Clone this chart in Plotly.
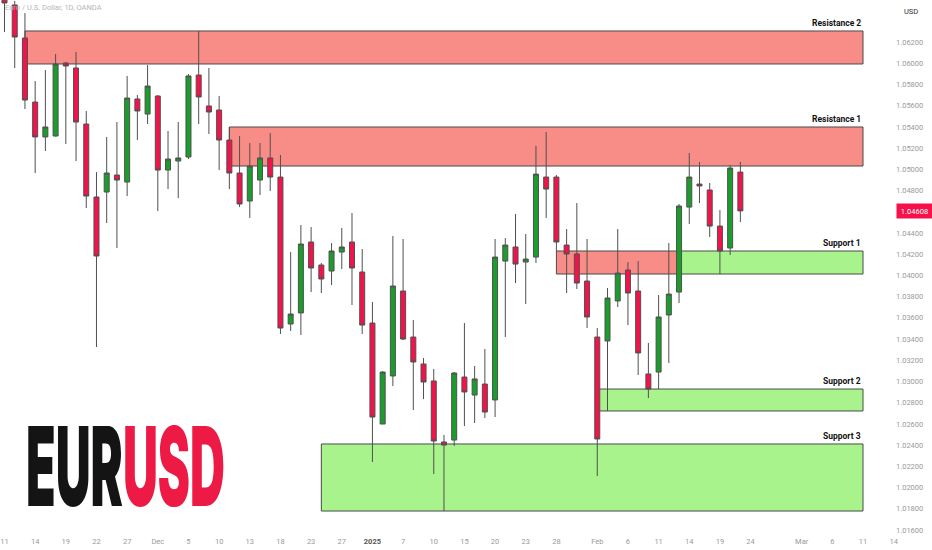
import plotly.graph_objects as go

# ---------------- data ----------------
dates = [
    "2024-11-11", "2024-11-12", "2024-11-13", "2024-11-14", "2024-11-15",
    "2024-11-18", "2024-11-19", "2024-11-20", "2024-11-21", "2024-11-22",
    "2024-11-25", "2024-11-26", "2024-11-27", "2024-11-28", "2024-11-29",
    "2024-12-02", "2024-12-03", "2024-12-04", "2024-12-05", "2024-12-06",
    "2024-12-09", "2024-12-10", "2024-12-11", "2024-12-12", "2024-12-13",
    "2024-12-16", "2024-12-17", "2024-12-18", "2024-12-19", "2024-12-20",
    "2024-12-23", "2024-12-24", "2024-12-26", "2024-12-27",
    "2024-12-30", "2024-12-31", "2025-01-02", "2025-01-03",
    "2025-01-06", "2025-01-07", "2025-01-08", "2025-01-09", "2025-01-10",
    "2025-01-13", "2025-01-14", "2025-01-15", "2025-01-16", "2025-01-17",
    "2025-01-20", "2025-01-21", "2025-01-22", "2025-01-23", "2025-01-24",
    "2025-01-27", "2025-01-28", "2025-01-29", "2025-01-30", "2025-01-31",
    "2025-02-03", "2025-02-04", "2025-02-05", "2025-02-06", "2025-02-07",
    "2025-02-10", "2025-02-11", "2025-02-12", "2025-02-13", "2025-02-14",
    "2025-02-17", "2025-02-18", "2025-02-19", "2025-02-20", "2025-02-21",
]
future_dates = [
    "2025-02-24", "2025-02-25", "2025-02-26", "2025-02-27", "2025-02-28",
    "2025-03-03", "2025-03-04", "2025-03-05", "2025-03-06", "2025-03-07",
    "2025-03-10", "2025-03-11", "2025-03-12", "2025-03-13", "2025-03-14",
]

opens = [
    1.06750, 1.06549, 1.06238, 1.05634, 1.05305,
    1.05314, 1.06002, 1.05955, 1.05427, 1.04739,
    1.04786, 1.04946, 1.04880, 1.05663, 1.05521,
    1.05691, 1.04993, 1.05078, 1.05116, 1.05889,
    1.05597, 1.05559, 1.05276, 1.04965, 1.04701,
    1.04899, 1.05107, 1.04927, 1.03542, 1.03646,
    1.04315, 1.04098, 1.04041, 1.04220,
    1.04315, 1.04032, 1.03551, 1.02599,
    1.03052, 1.03853, 1.03419, 1.03165, 1.03005,
    1.02430, 1.02448, 1.03042, 1.02872, 1.02976,
    1.02826, 1.04135, 1.04268, 1.04126, 1.04173,
    1.04927, 1.04927, 1.04286, 1.04202, 1.03947,
    1.03419, 1.03382, 1.03759, 1.04051, 1.03853,
    1.03071, 1.03089, 1.03627, 1.03843, 1.04644,
    1.04861, 1.04805, 1.04465, 1.04258, 1.04974,
]
highs = [
    1.06800, 1.06587, 1.06473, 1.05832, 1.05936,
    1.06087, 1.06012, 1.06106, 1.05550, 1.04974,
    1.05305, 1.05446, 1.05880, 1.05700, 1.05983,
    1.05700, 1.05361, 1.05446, 1.05898, 1.06304,
    1.05955, 1.05691, 1.05399, 1.05314, 1.05248,
    1.05248, 1.05342, 1.05135, 1.04220, 1.04475,
    1.04456, 1.04117, 1.04305, 1.04447,
    1.04588, 1.04249, 1.03749, 1.03099,
    1.04371, 1.04343, 1.03580, 1.03221, 1.03118,
    1.02496, 1.03089, 1.03551, 1.03146, 1.03306,
    1.04343, 1.04352, 1.04578, 1.04390, 1.05220,
    1.05352, 1.04946, 1.04437, 1.04682, 1.04343,
    1.03504, 1.03881, 1.04437, 1.04126, 1.04135,
    1.03363, 1.03815, 1.04305, 1.04673, 1.05154,
    1.05069, 1.04871, 1.04616, 1.05041, 1.05069,
]
lows = [
    1.06294, 1.05955, 1.05568, 1.04965, 1.05173,
    1.05310, 1.05239, 1.05078, 1.04635, 1.03325,
    1.04494, 1.04258, 1.04748, 1.05276, 1.05427,
    1.04607, 1.04814, 1.04729, 1.05097, 1.05427,
    1.05333, 1.04993, 1.04814, 1.04644, 1.04541,
    1.04758, 1.04795, 1.03448, 1.03476, 1.03438,
    1.03843, 1.03834, 1.03909, 1.04060,
    1.03721, 1.03448, 1.02241, 1.02599,
    1.02957, 1.03390, 1.02731, 1.02834, 1.02128,
    1.01779, 1.02392, 1.02580, 1.02609, 1.02656,
    1.02665, 1.03419, 1.03928, 1.03730, 1.04117,
    1.04541, 1.04230, 1.03834, 1.03872, 1.03504,
    1.02109, 1.02722, 1.03702, 1.03532, 1.03061,
    1.02844, 1.02929, 1.03174, 1.03740, 1.04484,
    1.04682, 1.04362, 1.04013, 1.04192, 1.04503,
]
closes = [
    1.06568, 1.06247, 1.05653, 1.05305, 1.05399,
    1.05993, 1.05974, 1.05446, 1.04748, 1.04183,
    1.04965, 1.04899, 1.05672, 1.05550, 1.05785,
    1.04993, 1.05097, 1.05107, 1.05880, 1.05682,
    1.05540, 1.05276, 1.04965, 1.04673, 1.05031,
    1.05107, 1.04927, 1.03504, 1.03636, 1.04296,
    1.04070, 1.03966, 1.04230, 1.04268,
    1.04070, 1.03532, 1.02665, 1.03089,
    1.03900, 1.03400, 1.03184, 1.02995, 1.02439,
    1.02401, 1.03080, 1.02901, 1.03024, 1.02712,
    1.04173, 1.04286, 1.04107, 1.04154, 1.04955,
    1.04814, 1.04315, 1.04202, 1.03928, 1.03608,
    1.02458, 1.03787, 1.04022, 1.03834, 1.03269,
    1.02929, 1.03608, 1.03824, 1.04654, 1.04927,
    1.04843, 1.04465, 1.04230, 1.05012, 1.04608,
]

tick_dates = [
    "2024-11-11", "2024-11-14", "2024-11-19", "2024-11-22", "2024-11-27",
    "2024-12-02", "2024-12-05", "2024-12-10", "2024-12-13", "2024-12-18",
    "2024-12-23", "2024-12-27", "2025-01-02", "2025-01-07", "2025-01-10",
    "2025-01-15", "2025-01-20", "2025-01-23", "2025-01-28", "2025-02-03",
    "2025-02-06", "2025-02-11", "2025-02-14", "2025-02-19", "2025-02-24",
    "2025-03-03", "2025-03-06", "2025-03-11", "2025-03-14",
]
tick_labels = [
    "11", "14", "19", "22", "27", "Dec", "5", "10", "13", "18", "23", "27",
    "<b><span style='color:#555'>2025</span></b>", "7", "10", "15", "20", "23", "28",
    "Feb", "6", "11", "14", "19", "24", "Mar", "6", "11", "14",
]
price_ticks = [
    1.062, 1.060, 1.058, 1.056, 1.054, 1.052, 1.050, 1.048, 1.044, 1.042,
    1.040, 1.038, 1.036, 1.034, 1.032, 1.030, 1.028, 1.026, 1.024, 1.022,
    1.020, 1.018, 1.016,
]

zone_labels = ["Resistance 2", "Resistance 1", "", "Support 1", "Support 2", "Support 3"]
zone_kind = ["res", "res", "res", "sup", "sup", "sup"]
zone_start = ["2024-11-13", "2024-12-11", "2025-01-28", "2025-02-13", "2025-02-03", "2024-12-24"]
zone_end = ["2025-03-11", "2025-03-11", "2025-02-13", "2025-03-11", "2025-03-11", "2025-03-11"]
zone_top = [1.06304, 1.05399, 1.04230, 1.04230, 1.02929, 1.02411]
zone_bottom = [1.05993, 1.05031, 1.04013, 1.04013, 1.02722, 1.01779]

last_price = 1.04608
title_text = "Euro / U.S. Dollar, 1D, OANDA"

# ---------------- figure ----------------
axis_dates = dates + future_dates
pos = {d: i for i, d in enumerate(axis_dates)}
xs = [pos[d] for d in dates]

RED = "#f5114a"
GREEN = "#1a9e2b"

fig = go.Figure()
fig.add_trace(go.Candlestick(
    x=xs, open=opens, high=highs, low=lows, close=closes,
    increasing=dict(fillcolor=GREEN, line=dict(color="#505050", width=1)),
    decreasing=dict(fillcolor=RED, line=dict(color="#505050", width=1)),
    whiskerwidth=0, hoverinfo="skip", showlegend=False,
))

shapes = []
annotations = []
for lab, kind, s, e, top, bot in zip(zone_labels, zone_kind, zone_start, zone_end, zone_top, zone_bottom):
    fill = "#f88c86" if kind == "res" else "#a9f38c"
    shapes.append(dict(type="rect", xref="x", yref="y", x0=pos[s], x1=pos[e], y0=bot, y1=top,
                       fillcolor=fill, line=dict(color="#4a4a4a", width=1), layer="below"))
    if lab:
        annotations.append(dict(xref="x", yref="y", x=pos[e], y=top, text="<b>" + lab + "</b>",
                                showarrow=False, xanchor="right", yanchor="bottom", yshift=1,
                                font=dict(family="Roboto", size=8.5, color="#111111")))

annotations.append(dict(xref="paper", yref="paper", x=0.003, y=0.999, text=title_text,
                        showarrow=False, xanchor="left", yanchor="top",
                        font=dict(family="Roboto", size=7.5, color="#b5b5b5")))
annotations.append(dict(xref="paper", yref="paper", x=1, y=0.979, text="USD", xshift=16,
                        showarrow=False, xanchor="center", yanchor="middle",
                        font=dict(family="Roboto", size=7.5, color="#333333")))
annotations.append(dict(xref="paper", yref="y", x=1, y=last_price, text="1.04608", xshift=1,
                        showarrow=False, xanchor="left", yanchor="middle", bgcolor=RED,
                        width=33, height=12, borderpad=1,
                        font=dict(family="Roboto", size=7.5, color="#ffffff")))
annotations.append(dict(xref="paper", yref="paper", x=24 / 895, y=1 - 466 / 535,
                        text="EUR<span style='color:#ec1a45'>USD</span>",
                        showarrow=False, xanchor="left", yanchor="middle",
                        font=dict(family="Inter", size=110, weight=900, color="#141414")))

fig.update_layout(
    width=932, height=550,
    margin=dict(l=0, r=37, t=0, b=15),
    paper_bgcolor="white", plot_bgcolor="white",
    shapes=shapes, annotations=annotations,
    showlegend=False,
    xaxis=dict(range=[-0.44, 87.13], tickvals=[pos[d] for d in tick_dates], ticktext=tick_labels,
               showgrid=False, zeroline=False, showline=False, ticks="",
               rangeslider=dict(visible=False),
               tickfont=dict(family="Roboto", size=7.5, color="#9a9a9a")),
    yaxis=dict(range=[1.01553, 1.06596], side="right", tickvals=price_ticks, tickformat=".5f",
               showgrid=False, zeroline=False, showline=False, ticks="",
               tickfont=dict(family="Roboto", size=7.5, color="#9a9a9a")),
)

post = """
document.body.style.margin = '0';
document.body.style.padding = '0';
document.querySelectorAll('text.annotation-text').forEach(function(t){
  if (t.textContent === 'EURUSD') {
    var b = t.getBBox();
    var sx = 0.44;
    t.setAttribute('transform', 'translate(' + b.x + ',0) scale(' + sx + ',1) translate(' + (-b.x) + ',0)');
  }
});
"""

fig.write_html("out.html", post_script=post, config={"displayModeBar": False})
